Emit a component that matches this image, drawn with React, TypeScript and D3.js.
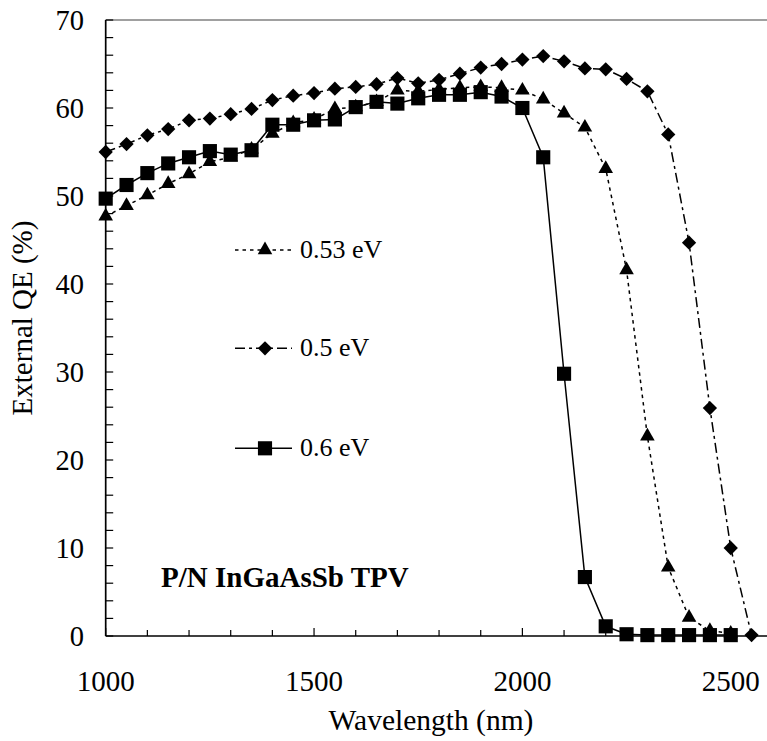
import React from "react";
import * as d3 from "d3";

const WIDTH = 767;
const HEIGHT = 741;

const wavelengths053 = [1000, 1050, 1100, 1150, 1200, 1250, 1300, 1350, 1400, 1450, 1500, 1550, 1600, 1650, 1700, 1750, 1800, 1850, 1900, 1950, 2000, 2050, 2100, 2150, 2200, 2250, 2300, 2350, 2400, 2450, 2500];
const qe053 = [47.7, 48.9, 50.1, 51.4, 52.5, 53.9, 54.4, 55.3, 57.1, 58.3, 58.7, 59.9, 60.1, 60.7, 62.0, 61.9, 62.1, 62.3, 62.4, 62.3, 62.0, 61.0, 59.4, 57.8, 53.1, 41.6, 22.7, 7.8, 2.1, 0.6, 0.3];

const wavelengths05 = [1000, 1050, 1100, 1150, 1200, 1250, 1300, 1350, 1400, 1450, 1500, 1550, 1600, 1650, 1700, 1750, 1800, 1850, 1900, 1950, 2000, 2050, 2100, 2150, 2200, 2250, 2300, 2350, 2400, 2450, 2500, 2550];
const qe05 = [55.0, 55.9, 56.9, 57.6, 58.6, 58.8, 59.3, 59.9, 60.9, 61.4, 61.7, 62.2, 62.4, 62.7, 63.4, 62.8, 63.2, 63.9, 64.6, 65.0, 65.5, 65.9, 65.3, 64.5, 64.4, 63.3, 61.9, 57.0, 44.7, 25.9, 10.0, 0.1];

const wavelengths06 = [1000, 1050, 1100, 1150, 1200, 1250, 1300, 1350, 1400, 1450, 1500, 1550, 1600, 1650, 1700, 1750, 1800, 1850, 1900, 1950, 2000, 2050, 2100, 2150, 2200, 2250, 2300, 2350, 2400, 2450, 2500];
const qe06 = [49.7, 51.25, 52.6, 53.7, 54.4, 55.1, 54.7, 55.2, 58.1, 58.1, 58.6, 58.7, 60.1, 60.7, 60.5, 61.1, 61.5, 61.5, 61.8, 61.3, 60.0, 54.4, 29.8, 6.7, 1.1, 0.2, 0.1, 0.1, 0.1, 0.1, 0.1];

const xTickLabels = [1000, 1500, 2000, 2500];
const yTickLabels = [0, 10, 20, 30, 40, 50, 60, 70];
const seriesNames = ["0.53 eV", "0.5 eV", "0.6 eV"];

const FONT = '"Liberation Serif", "DejaVu Serif", "Times New Roman", serif';

type Marker = "triangle" | "diamond" | "square";

const markerPath = (m: Marker) => {
  if (m === "triangle") return d3.symbol(d3.symbolTriangle, 92)()!;
  if (m === "square") return d3.symbol(d3.symbolSquare, 200)()!;
  return d3.symbol(d3.symbolSquare, 102)()!;
};

const txt: React.CSSProperties = { fontFamily: FONT };

export default function App() {
  const left = 105.7;
  const top = 20;
  const bottom = 636;
  const x = d3.scaleLinear().domain([1000, 2600]).range([left, 772.4]);
  const y = d3.scaleLinear().domain([0, 70]).range([bottom, top]);

  const series = [
    { name: seriesNames[0], xs: wavelengths053, ys: qe053, marker: "triangle" as Marker, dash: "3.5,4" },
    { name: seriesNames[1], xs: wavelengths05, ys: qe05, marker: "diamond" as Marker, dash: "10,4,3,4" },
    { name: seriesNames[2], xs: wavelengths06, ys: qe06, marker: "square" as Marker, dash: "" },
  ];

  const line = d3
    .line<[number, number]>()
    .x((d) => x(d[0]))
    .y((d) => y(d[1]));

  const xMinor = d3.range(1000, 2601, 100);
  const yMinor = d3.range(0, 71, 2);

  const legendY = [250, 348.3, 448.3];

  return (
    <svg
      width={WIDTH}
      height={HEIGHT}
      style={{ position: "absolute", left: 0, top: 0, background: "#fff" }}
    >
      <rect x={0} y={0} width={WIDTH} height={HEIGHT} fill="#fff" />
      <line x1={left} x2={WIDTH} y1={top} y2={top} stroke="#808080" strokeWidth={1.7} />
      <line x1={left} x2={left} y1={top} y2={bottom} stroke="#000" strokeWidth={1.7} />
      <line x1={left} x2={WIDTH} y1={bottom} y2={bottom} stroke="#000" strokeWidth={1.7} />
      {yMinor.map((v) => (
        <line key={"yt" + v} x1={left} x2={left + 7.5} y1={y(v)} y2={y(v)} stroke="#000" strokeWidth={1.2} />
      ))}
      {xMinor.map((v) => (
        <line
          key={"xt" + v}
          x1={x(v)}
          x2={x(v)}
          y1={bottom}
          y2={bottom - (v % 500 === 0 ? 8 : 6)}
          stroke="#000"
          strokeWidth={1.2}
        />
      ))}
      {yTickLabels.map((v) => (
        <text key={"yl" + v} x={84} y={y(v) + 10} textAnchor="end" fontSize={28.5} fill="#000" style={txt}>
          {v}
        </text>
      ))}
      {xTickLabels.map((v) => (
        <text key={"xl" + v} x={x(v)} y={690.5} textAnchor="middle" fontSize={29} fill="#000" style={txt}>
          {v}
        </text>
      ))}
      <text x={431} y={730} textAnchor="middle" fontSize={29.5} fill="#000" style={txt}>
        Wavelength (nm)
      </text>
      <text
        transform={`translate(32,318) rotate(-90)`}
        textAnchor="middle"
        fontSize={29}
        fill="#000"
        style={txt}
      >
        External QE (%)
      </text>

      {series.map((s) => (
        <path
          key={"l" + s.name}
          d={line(s.xs.map((w, i) => [w, s.ys[i]] as [number, number])) || ""}
          fill="none"
          stroke="#000"
          strokeWidth={1.5}
          strokeDasharray={s.dash || undefined}
        />
      ))}
      {series.map((s) =>
        s.xs.map((w, i) => (
          <path
            key={s.name + w}
            d={markerPath(s.marker)}
            transform={`translate(${x(w)},${y(s.ys[i])})${s.marker === "diamond" ? " rotate(45)" : ""}`}
            fill="#000"
          />
        ))
      )}

      {series.map((s, i) => (
        <g key={"lg" + s.name}>
          <line
            x1={235}
            x2={292}
            y1={legendY[i]}
            y2={legendY[i]}
            stroke="#000"
            strokeWidth={1.5}
            strokeDasharray={s.dash || undefined}
          />
          <path
            d={markerPath(s.marker)}
            transform={`translate(265,${legendY[i]})${s.marker === "diamond" ? " rotate(45)" : ""}`}
            fill="#000"
          />
          <text x={300} y={legendY[i] + 8} fontSize={26} fill="#000" style={txt}>
            {s.name}
          </text>
        </g>
      ))}

      <text x={161} y={587} fontSize={29} fontWeight="bold" fill="#000" style={txt}>
        P/N InGaAsSb TPV
      </text>
    </svg>
  );
}
